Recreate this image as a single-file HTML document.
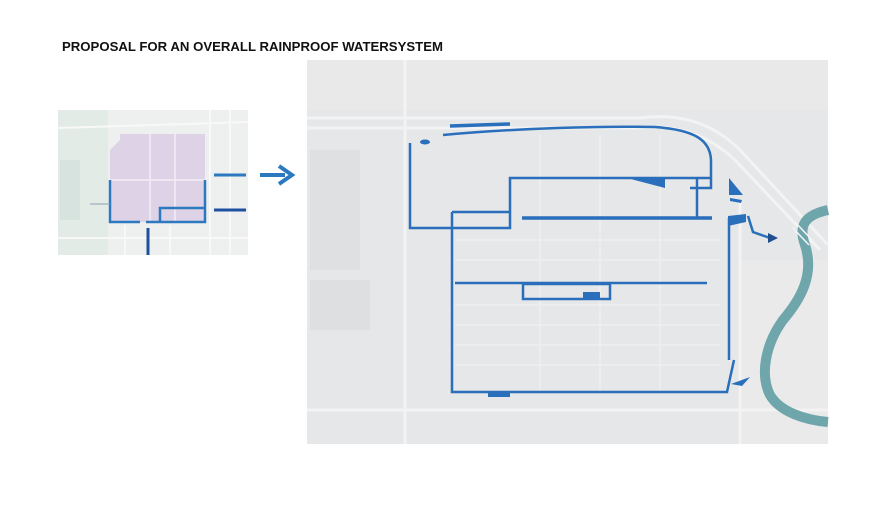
<!DOCTYPE html>
<html><head><meta charset="utf-8"><style>
html,body{margin:0;padding:0;background:#fff;width:882px;height:526px;overflow:hidden}
</style></head><body>
<svg width="882" height="526" viewBox="0 0 882 526" xmlns="http://www.w3.org/2000/svg">
<rect width="882" height="526" fill="#fff"/>
<text x="62" y="51" font-family="Liberation Sans, sans-serif" font-weight="bold" font-size="13" fill="#111" textLength="381" lengthAdjust="spacingAndGlyphs">PROPOSAL FOR AN OVERALL RAINPROOF WATERSYSTEM</text>

<!-- small map -->
<rect x="58" y="110" width="190" height="145" fill="#eef0ef"/>
<rect x="58" y="110" width="50" height="145" fill="#e3ebe6"/>
<rect x="60" y="160" width="20" height="60" fill="#d6e3de"/>
<g stroke="#f8f8f8" stroke-width="2">
<line x1="58" y1="128" x2="248" y2="122"/><line x1="58" y1="238" x2="248" y2="238"/>
<line x1="210" y1="110" x2="210" y2="255"/><line x1="230" y1="110" x2="230" y2="255"/>
<line x1="125" y1="225" x2="125" y2="255"/><line x1="170" y1="225" x2="170" y2="255"/>
</g>
<path d="M120,134 L205,134 L205,222 L110,222 L110,150 L120,140 Z" fill="#ddd2e6"/>
<g stroke="#f2eef5" stroke-width="1.5"><line x1="150" y1="134" x2="150" y2="222"/><line x1="110" y1="180" x2="205" y2="180"/><line x1="175" y1="134" x2="175" y2="222"/></g>
<g fill="none" stroke="#2c79bf" stroke-width="2.5">
<path d="M110,180 V222 H140 M146,222 H160 V208 H205 V222 H160 M205,222 V180"/>
</g>
<line x1="90" y1="204" x2="110" y2="204" stroke="#8aa0b0" stroke-width="1"/>
<line x1="148" y1="228" x2="148" y2="255" stroke="#1f4fa0" stroke-width="3"/>
<line x1="214" y1="175" x2="246" y2="175" stroke="#2c79bf" stroke-width="3"/>
<line x1="214" y1="210" x2="246" y2="210" stroke="#1f4fa0" stroke-width="3"/>
<path d="M260,175 H285" stroke="#2c79bf" stroke-width="4"/>
<path d="M279,166 L292,175 L279,184" fill="none" stroke="#2c79bf" stroke-width="4"/>

<!-- big map -->
<rect x="307" y="60" width="521" height="384" fill="#e6e7e8"/>
<rect x="307" y="60" width="521" height="50" fill="#e9e9ea"/>
<rect x="310" y="150" width="50" height="120" fill="#dfe0e1"/>
<rect x="310" y="280" width="60" height="50" fill="#dddfe0"/>
<rect x="740" y="260" width="88" height="184" fill="#eaeaeb"/>
<g stroke="#f3f3f3" stroke-width="3" fill="none">
<path d="M307,118 H640 Q700,110 740,150 L828,245"/>
<path d="M307,128 H640 Q695,122 735,160 L820,250"/>
<line x1="405" y1="60" x2="405" y2="444"/><line x1="740" y1="200" x2="740" y2="444"/>
<line x1="307" y1="410" x2="828" y2="410"/>
</g>
<g stroke="#efefef" stroke-width="1.5">
<line x1="455" y1="240" x2="720" y2="240"/><line x1="455" y1="260" x2="720" y2="260"/>
<line x1="455" y1="305" x2="720" y2="305"/><line x1="455" y1="325" x2="720" y2="325"/>
<line x1="455" y1="345" x2="720" y2="345"/><line x1="455" y1="365" x2="720" y2="365"/>
<line x1="540" y1="135" x2="540" y2="392"/><line x1="600" y1="135" x2="600" y2="392"/><line x1="660" y1="135" x2="660" y2="392"/>
</g>
<!-- river -->
<path d="M828,210 C805,215 798,225 805,245 C815,275 800,300 783,320 C765,345 760,375 770,395 C780,412 805,420 828,422" fill="none" stroke="#6fa6ac" stroke-width="10"/>
<g stroke="#f5f5f5" stroke-width="1.5"><line x1="795" y1="222" x2="812" y2="240"/><line x1="792" y1="227" x2="809" y2="245"/></g>

<!-- water system -->
<g fill="none" stroke="#2a6fbc" stroke-width="2.5">
<path d="M410,143 V228 H510 V178 H712"/>
<path d="M443,135 C520,128 600,126 655,127 C695,130 710,140 711,160 V188 H690"/>
<path d="M452,212 H510 M452,212 V392 H727 L734,360 M729,360 V218"/>
<path d="M455,283 H707 M523,284 H610 V299 H523 Z"/>
<path d="M697,178 V218"/>
<path d="M748,216 L753,232 L770,238"/>
</g>
<path d="M522,218 H712" stroke="#2a6fbc" stroke-width="3.5"/>
<path d="M450,126 L510,124" stroke="#2a6fbc" stroke-width="3.5"/>
<ellipse cx="425" cy="142" rx="5" ry="2.5" fill="#2a6fbc"/>
<path d="M627,178 L665,178 L665,188 Z" fill="#2a6fbc"/>
<path d="M583,292 H600 V299 H583 Z" fill="#2a6fbc"/>
<path d="M488,392 H510 V397 H488 Z" fill="#2a6fbc"/>
<path d="M729,178 L743,195 L729,195 Z" fill="#2a6fbc"/>
<path d="M730,198 L742,200 L741,203 L730,201 Z" fill="#2a6fbc"/>
<path d="M728,216 L746,214 L746,222 L728,226 Z" fill="#2a6fbc"/>
<path d="M731,384 L750,377 L742,386 Z" fill="#2a6fbc"/>
<path d="M768,233 L778,238 L768,243 Z" fill="#1f4f8f"/>
</svg>
</body></html>
